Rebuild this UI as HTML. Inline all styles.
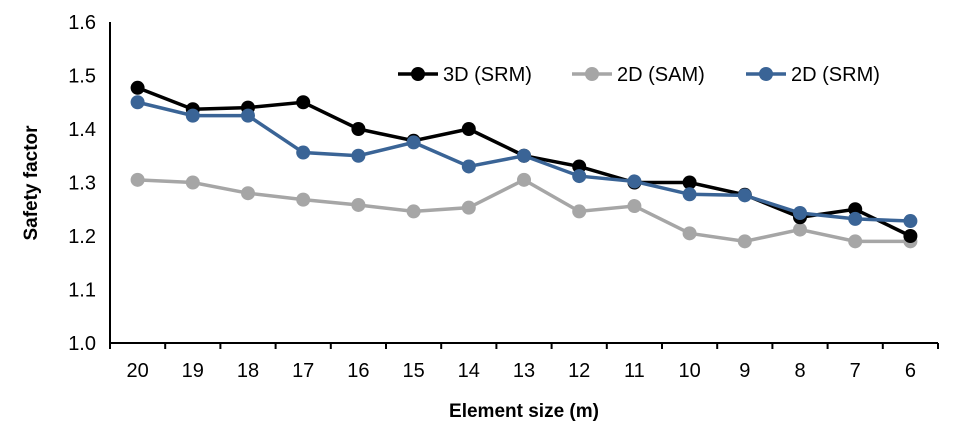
<!DOCTYPE html>
<html><head><meta charset="utf-8"><style>
body{margin:0;background:#fff;font-family:"Liberation Sans",Arial,sans-serif}
svg text{font-family:"Liberation Sans",Arial,sans-serif}
</style></head><body>
<svg id="chart" width="966" height="441" viewBox="0 0 966 441">
<g id="axes"></g><g id="series"></g><g id="legend"></g>
</svg>
<script>
const categories=[20,19,18,17,16,15,14,13,12,11,10,9,8,7,6];
const yTicks=[1.0,1.1,1.2,1.3,1.4,1.5,1.6];
const seriesNames=["3D (SRM)","2D (SAM)","2D (SRM)"];
const s3dSRM=[1.477,1.437,1.44,1.45,1.40,1.378,1.40,1.35,1.33,1.30,1.30,1.277,1.235,1.25,1.20];
const s2dSAM=[1.305,1.30,1.28,1.268,1.258,1.246,1.253,1.305,1.246,1.256,1.205,1.19,1.212,1.19,1.19];
const s2dSRM=[1.45,1.425,1.425,1.356,1.35,1.375,1.33,1.35,1.312,1.302,1.278,1.276,1.243,1.232,1.228];
const NS="http://www.w3.org/2000/svg";
const L=110,R=938,T=22,B=343,ymin=1.0,ymax=1.6;
const band=(R-L)/categories.length;
const xs=i=>L+band*(i+0.5);
const ys=v=>B-(v-ymin)/(ymax-ymin)*(B-T);
function mk(tag,attrs,parent,text){const e=document.createElementNS(NS,tag);for(const k in attrs)e.setAttribute(k,attrs[k]);if(text!==undefined)e.textContent=text;parent.appendChild(e);return e;}
const ax=document.getElementById('axes');
let e=mk('line',{x1:L,y1:T,x2:L,y2:B,stroke:'#000','stroke-width':2},ax);


e=mk('line',{x1:L,y1:B,x2:R,y2:B,stroke:'#000','stroke-width':2},ax);


yTicks.forEach(v=>{const t=mk('text',{x:L-14,y:ys(v)+7,'text-anchor':'end','font-size':20,fill:'#000'},ax,v.toFixed(1));

});
for(let i=0;i<=categories.length;i++){const x=L+band*i;const t=mk('line',{x1:x,y1:B,x2:x,y2:B+6,stroke:'#000','stroke-width':2},ax);

}
categories.forEach((c,i)=>{const t=mk('text',{x:xs(i),y:B+34,'text-anchor':'middle','font-size':20,fill:'#000'},ax,c);

});
e=mk('text',{x:(L+R)/2,y:417,'text-anchor':'middle','font-size':19,'font-weight':'bold'},ax,'Element size (m)');


e=mk('text',{x:0,y:0,'text-anchor':'middle','font-size':19,'font-weight':'bold',transform:'translate(37,183) rotate(-90)'},ax,'Safety factor');


const sg=document.getElementById('series');
const data=[[s2dSAM,'#a6a6a6','series-2d-sam'],[s3dSRM,'#000000','series-3d-srm'],[s2dSRM,'#3a6496','series-2d-srm']];
data.forEach(([vals,col,name])=>{const g=mk('g',{},sg);


mk('polyline',{points:vals.map((v,i)=>xs(i)+','+ys(v)).join(' '),fill:'none',stroke:col,'stroke-width':3.5},g);
vals.forEach((v,i)=>{const c=mk('circle',{cx:xs(i),cy:ys(v),r:7,fill:col},g);

});});
const lg=document.getElementById('legend');
const lx=[398,572,746],cols=['#000000','#a6a6a6','#3a6496'];
seriesNames.forEach((n,i)=>{const g=mk('g',{},lg);


mk('line',{x1:lx[i],y1:74,x2:lx[i]+40,y2:74,stroke:cols[i],'stroke-width':3.5},g);
mk('circle',{cx:lx[i]+20,cy:74,r:7,fill:cols[i]},g);
mk('text',{x:lx[i]+45,y:81,'font-size':20},g,n);});
</script>
</body></html>
